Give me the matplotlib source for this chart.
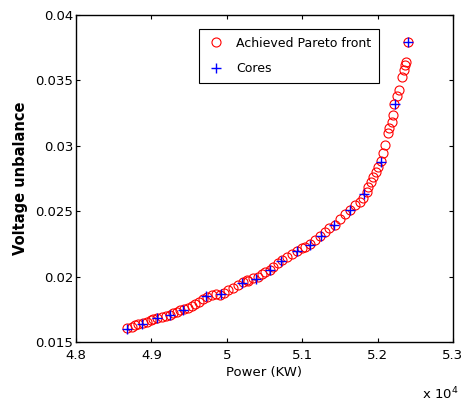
import matplotlib
matplotlib.use('Agg')
import matplotlib.pyplot as plt
from matplotlib.ticker import FuncFormatter

# narrow faces first, whichever one is installed gets used
plt.rcParams['font.family'] = ['DejaVu Sans Condensed', 'Liberation Sans Narrow', 'DejaVu Sans']

# Achieved Pareto front (power in KW, voltage unbalance)
front_power = [
    48680, 48739, 48783, 48826, 48885, 48938, 48991, 49025, 49078, 49137,
    49194, 49247, 49290, 49336, 49379, 49432, 49489, 49534, 49578, 49635,
    49688, 49741, 49800, 49857, 49910, 49963, 50020, 50086, 50153, 50211,
    50264, 50285, 50351, 50418, 50463, 50507, 50573, 50617, 50683, 50728,
    50794, 50861, 50927, 50993, 51037, 51103, 51170, 51236, 51302, 51359,
    51435, 51501, 51568, 51634, 51700, 51767, 51806, 51855, 51877, 51912,
    51943, 51975, 52009, 52045, 52076, 52098, 52134, 52155, 52187, 52200,
    52222, 52253, 52284, 52320, 52344, 52363, 52373, 52407,
]
front_vu = [
    0.01605, 0.01617, 0.01630, 0.01635, 0.01643, 0.01655, 0.01668, 0.01674, 0.01681, 0.01693,
    0.01701, 0.01706, 0.01719, 0.01732, 0.01745, 0.01752, 0.01762, 0.01778, 0.01788, 0.01804,
    0.01829, 0.01846, 0.01859, 0.01867, 0.01859, 0.01872, 0.01898, 0.01915, 0.01936, 0.01961,
    0.01974, 0.01966, 0.01987, 0.01999, 0.02018, 0.02033, 0.02050, 0.02076, 0.02102, 0.02127,
    0.02152, 0.02170, 0.02196, 0.02216, 0.02229, 0.02247, 0.02280, 0.02313, 0.02343, 0.02369,
    0.02394, 0.02440, 0.02476, 0.02509, 0.02547, 0.02573, 0.02599, 0.02649, 0.02687, 0.02725,
    0.02764, 0.02802, 0.02840, 0.02884, 0.02943, 0.03006, 0.03096, 0.03134, 0.03184, 0.03235,
    0.03320, 0.03381, 0.03430, 0.03528, 0.03579, 0.03618, 0.03644, 0.03791,
]

# Cores
core_power = [
    48683, 48879, 49081, 49251, 49423, 49724, 49927, 50204, 50394, 50570,
    50719, 50927, 51103, 51249, 51428, 51637, 51824, 52042, 52227, 52407,
]
core_vu = [
    0.01597, 0.01638, 0.01680, 0.01706, 0.01742, 0.01849, 0.01865, 0.01953, 0.01982, 0.02053,
    0.02123, 0.02198, 0.02242, 0.02310, 0.02392, 0.02513, 0.02628, 0.02875, 0.03322, 0.03791,
]

xticks = [48000, 49000, 50000, 51000, 52000, 53000]
yticks = [0.015, 0.02, 0.025, 0.03, 0.035, 0.04]

fig = plt.figure(figsize=(4.63, 4.09), dpi=100)
ax = fig.add_axes([0.1641, 0.1638, 0.8143, 0.7995])

ax.plot(front_power, front_vu, 'o', linestyle='none', markerfacecolor='none',
        markeredgecolor='red', markersize=6.5, markeredgewidth=0.8,
        label='Achieved Pareto front')
ax.plot(core_power, core_vu, '+', linestyle='none', color='blue',
        markersize=7, markeredgewidth=1.0, label='Cores')

ax.set_xlim(48000, 53000)
ax.set_ylim(0.015, 0.04)
ax.set_xticks(xticks)
ax.set_yticks(yticks)
ax.xaxis.set_major_formatter(FuncFormatter(lambda v, p: '%g' % (v / 1e4)))
ax.yaxis.set_major_formatter(FuncFormatter(lambda v, p: '%g' % v))
ax.tick_params(direction='in', top=True, right=True, length=3, width=0.8,
               labelsize=9.5, pad=2)
ax.tick_params(axis='x', pad=5)
for s in ax.spines.values():
    s.set_linewidth(1.0)

ax.set_xlabel('Power (KW)', fontsize=9.5, labelpad=3)
ax.set_ylabel('Voltage unbalance', fontsize=10.5, fontweight='bold', labelpad=5)
ax.text(1.013, -0.158, r'x 10$^{4}$', transform=ax.transAxes, fontsize=9.5,
        ha='right', va='center')

leg = ax.legend(loc='upper right', bbox_to_anchor=(0.804, 0.957), borderaxespad=0,
                fancybox=False, framealpha=1, edgecolor='black', fontsize=9,
                handletextpad=0.8, handlelength=1.6, borderpad=0.6, labelspacing=1.0)
leg.get_frame().set_linewidth(0.8)

fig.savefig('out.png', dpi=100)
